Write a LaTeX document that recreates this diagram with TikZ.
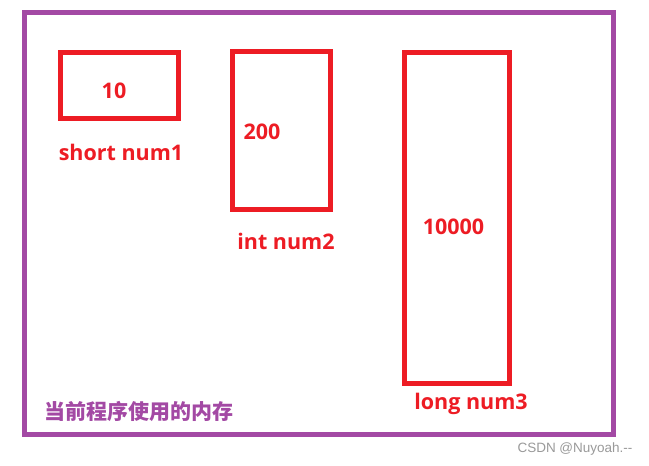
\documentclass[tikz,border=0pt]{standalone}
\usepackage{fontspec}
\setmainfont{Open Sans}
\newfontfamily\cjkfont{Noto Sans CJK SC}
\newfontfamily\wmfont{Liberation Sans}
\definecolor{memred}{HTML}{ED1C24}
\definecolor{mempurple}{HTML}{A349A4}
\definecolor{wmgray}{HTML}{9A9A9A}
\begin{document}
\begin{tikzpicture}[x=1pt,y=-1pt,
  memframe/.style={draw=mempurple,line width=5pt},
  varbox/.style={draw=memred,line width=5pt},
  vartext/.style={text=memred,font=\fontsize{21.5}{26}\selectfont\bfseries,inner sep=0pt},
  memlabel/.style={text=mempurple,font=\cjkfont\fontsize{21}{24}\selectfont\bfseries,inner sep=0pt},
  wmark/.style={text=wmgray,font=\wmfont\fontsize{13.5}{16}\selectfont,inner sep=0pt}]
\useasboundingbox (0,0) rectangle (649,466);
\fill[white] (0,0) rectangle (649,466);
\draw[memframe] (24.5,12.5) rectangle (613.5,434.5);
\draw[varbox] (60.5,52.5) rectangle (178,118);
\draw[varbox] (232.5,51) rectangle (330.5,209.5);
\draw[varbox] (404.5,52.5) rectangle (509.5,383.5);
\node[vartext] (v1) at (114,91) {10};
\node[vartext] (n1) at (121,152) {short num1};
\node[vartext] (v2) at (262,132) {200};
\node[vartext] (n2) at (286,241) {int num2};
\node[vartext] (v3) at (453.5,227) {10000};
\node[vartext] (n3) at (471,404) {long num3};
\node[memlabel] (mem) at (139.5,411) {当前程序使用的内存};
\node[wmark] (wm) at (575,449) {CSDN @Nuyoah.--};
\end{tikzpicture}
\end{document}
